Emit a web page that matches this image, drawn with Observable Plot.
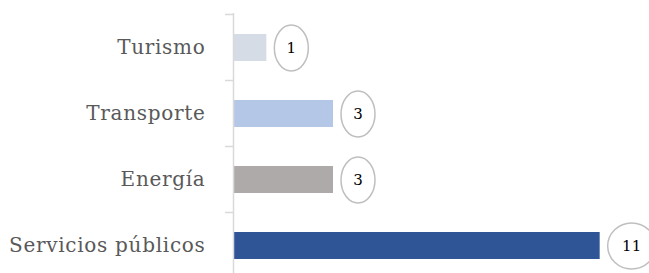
<!DOCTYPE html>
<html>
<head>
<meta charset="utf-8">
<script src="https://cdn.jsdelivr.net/npm/d3@7"></script>
<script src="https://cdn.jsdelivr.net/npm/@observablehq/plot@0.6"></script>
<style>
  html, body { margin: 0; padding: 0; background: #ffffff; }
  #chart svg { display: block; background: #ffffff; }
  #chart svg .cat-axis text { letter-spacing: 0.7px; }
</style>
</head>
<body>
<div id="chart"></div>
<script>
const categories = ["Turismo", "Transporte", "Energía", "Servicios públicos"];
const values = [1, 3, 3, 11];
const labels = ["1", "3", "3", "11"];
const colors = ["#d6dce5", "#b4c7e7", "#aeaaaa", "#2f5597"];

const data = categories.map((c, i) => ({cat: c, value: values[i], label: labels[i], color: colors[i]}));

function ellipseSymbol(rx, ry) {
  const k = 0.5522847498;
  return {
    draw(ctx) {
      ctx.moveTo(rx, 0);
      ctx.bezierCurveTo(rx, ry * k, rx * k, ry, 0, ry);
      ctx.bezierCurveTo(-rx * k, ry, -rx, ry * k, -rx, 0);
      ctx.bezierCurveTo(-rx, -ry * k, -rx * k, -ry, 0, -ry);
      ctx.bezierCurveTo(rx * k, -ry, rx, -ry * k, rx, 0);
      ctx.closePath();
    }
  };
}

const gap = 7.5;
const narrow = {w: 34, h: 46};
const wide = {w: 48, h: 46};
const single = data.filter(d => d.label.length === 1);
const double = data.filter(d => d.label.length > 1);

function boundaryTicks(index, scales) {
  const x = scales.x, y = scales.y;
  const bw = typeof y.bandwidth === "function" ? y.bandwidth() : 0;
  const centers = categories.map(c => y(c) + bw / 2);
  const step = centers[1] - centers[0];
  const bounds = [centers[0] - step / 2];
  for (let i = 1; i < centers.length; i++) bounds.push((centers[i - 1] + centers[i]) / 2);
  bounds.push(centers[centers.length - 1] + step / 2);
  const x0 = x(0);
  const g = d3.create("svg:g").attr("stroke", "#d9d9d9").attr("stroke-width", 1.5);
  g.selectAll("line").data(bounds).join("line")
    .attr("x1", x0 - 8).attr("x2", x0).attr("y1", d => d).attr("y2", d => d);
  return g.node();
}

const chart = Plot.plot({
  width: 649,
  height: 273,
  marginLeft: 233,
  marginRight: 0,
  marginTop: 13,
  marginBottom: 0,
  style: {background: "#ffffff", overflow: "hidden"},
  x: {domain: [0, 12.48], axis: null},
  y: {domain: categories, range: [13, 280], paddingInner: 0.595, paddingOuter: 0.2975},
  marks: [
    Plot.axisY({label: null, tickSize: 0, tickPadding: 28, fontSize: 20, fontFamily: "DejaVu Serif", fill: "#595959", className: "cat-axis"}),
    Plot.barX(data, {x: "value", y: "cat", fill: "color"}),
    Plot.ruleX([0], {stroke: "#d9d9d9", strokeWidth: 1.5}),
    boundaryTicks,
    Plot.dot(single, {x: "value", y: "cat", dx: gap + narrow.w / 2, symbol: ellipseSymbol(narrow.w / 2, narrow.h / 2), fill: "white", stroke: "#bfbfbf", strokeWidth: 1.5}),
    Plot.dot(double, {x: "value", y: "cat", dx: gap + wide.w / 2, symbol: ellipseSymbol(wide.w / 2, wide.h / 2), fill: "white", stroke: "#bfbfbf", strokeWidth: 1.5}),
    Plot.text(single, {x: "value", y: "cat", dx: gap + narrow.w / 2, text: "label", fontSize: 15, fontFamily: "DejaVu Serif", fill: "#000000"}),
    Plot.text(double, {x: "value", y: "cat", dx: gap + wide.w / 2, text: "label", fontSize: 15, fontFamily: "DejaVu Serif", fill: "#000000"})
  ]
});
document.getElementById("chart").appendChild(chart);
</script>
</body>
</html>
